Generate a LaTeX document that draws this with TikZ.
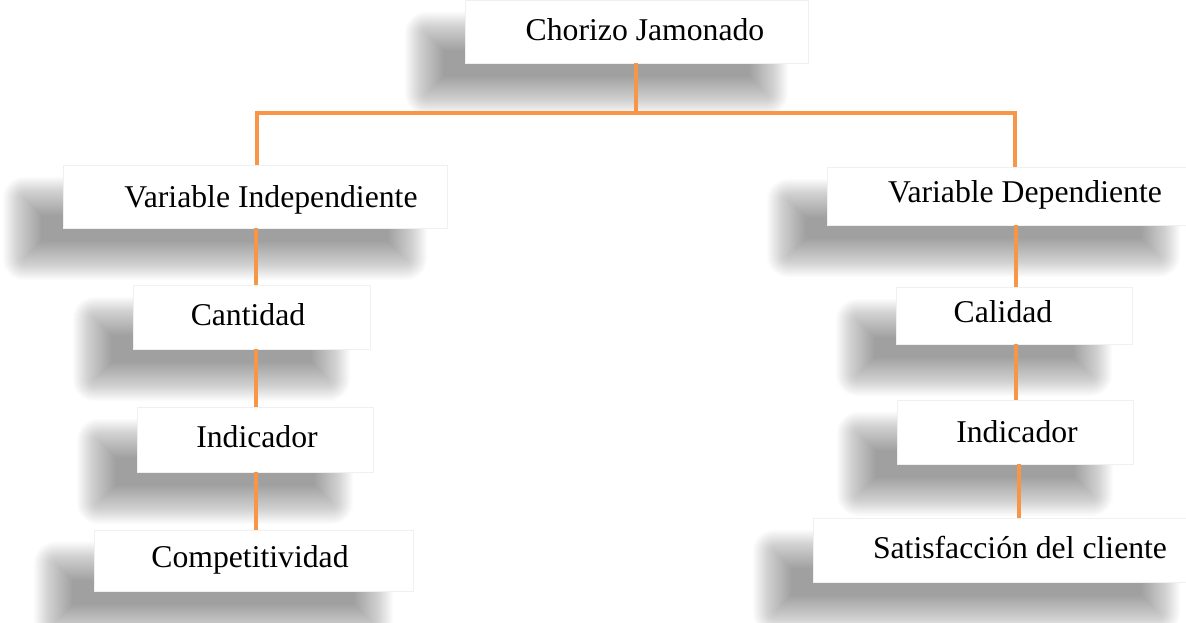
\documentclass[tikz,border=0pt]{standalone}
\usepackage{fontspec}
\setmainfont{Liberation Serif}
\usetikzlibrary{calc,backgrounds}
\definecolor{conncol}{HTML}{F79646}
\tikzset{
  boxnode/.style={rectangle, fill=white, draw=black!6, line width=0.6pt, inner sep=0pt},
  lbl/.style={anchor=base, inner sep=0pt, font=\fontsize{31.7}{38}\selectfont},
  conn/.style={draw=conncol, line width=4.8pt},
  shadowfill/.style={fill=black, opacity=0.0105}
}
\newcommand\mkshadow[1]{%
  \foreach \k in {0,...,39}{%
    \pgfmathsetmacro\se{20-\k}%
    \pgfmathsetmacro\sxl{-40-\se}%
    \pgfmathsetmacro\sxr{-40+\se}%
    \pgfmathsetmacro\syt{32-\se}%
    \pgfmathsetmacro\syb{32+\se}%
    \pgfmathsetmacro\src{max(\se+2,0.5)}%
    \fill[shadowfill, rounded corners=\src pt] ($(#1.north west)+(\sxl,\syt)$) rectangle ($(#1.south east)+(\sxr,\syb)$);
  }}
\begin{document}
\begin{tikzpicture}[x=1pt,y=-1pt]
\useasboundingbox (0,0) rectangle (1186,622);
\clip (0,0) rectangle (1186,622);

% boxes
\node[boxnode, minimum width=343pt, minimum height=63pt] (top)  at (636.5,31.5) {};
\node[boxnode, minimum width=384pt, minimum height=63pt] (vi)   at (255,196.5) {};
\node[boxnode, minimum width=373pt, minimum height=58pt] (vd)   at (1013.5,196) {};
\node[boxnode, minimum width=237pt, minimum height=64pt] (cant) at (251.5,317) {};
\node[boxnode, minimum width=236pt, minimum height=65pt] (indl) at (255,439.5) {};
\node[boxnode, minimum width=319pt, minimum height=61pt] (comp) at (253.5,560.5) {};
\node[boxnode, minimum width=236pt, minimum height=57pt] (cal)  at (1014,315.5) {};
\node[boxnode, minimum width=236pt, minimum height=64pt] (indr) at (1015,432) {};
\node[boxnode, minimum width=387pt, minimum height=64pt] (sat)  at (1006.5,550) {};

% labels
\node[lbl] (ttop)  at (645,40)   {Chorizo Jamonado};
\node[lbl] (tvi)   at (271,207)  {Variable Independiente};
\node[lbl] (tvd)   at (1025,202) {Variable Dependiente};
\node[lbl] (tcant) at (248,325)  {Cantidad};
\node[lbl] (tindl) at (257,447)  {Indicador};
\node[lbl] (tcomp) at (250,567)  {Competitividad};
\node[lbl] (tcal)  at (1003,322) {Calidad};
\node[lbl] (tindr) at (1017,442) {Indicador};
\node[lbl] (tsat)  at (1020,558) {Satisfacción del cliente};

% shadows
\begin{pgfonlayer}{background}
\mkshadow{top}
\mkshadow{vi}
\mkshadow{vd}
\mkshadow{cant}
\mkshadow{indl}
\mkshadow{comp}
\mkshadow{cal}
\mkshadow{indr}
\mkshadow{sat}
\end{pgfonlayer}

% connectors
\coordinate (hc) at (636,113);
\coordinate (hl) at (257,113);
\coordinate (hr) at (1015,113);
\coordinate (cl) at (256,0);
\coordinate (cr) at (1016,0);
\coordinate (cr2) at (1019,0);
\draw[conn] (top.south -| hc) -- (hc);
\draw[conn] (vi.north -| hl) -- (hl) -- (hr) -- (vd.north -| hr);
\draw[conn] (vi.south -| cl) -- (cant.north -| cl);
\draw[conn] (cant.south -| cl) -- (indl.north -| cl);
\draw[conn] (indl.south -| cl) -- (comp.north -| cl);
\draw[conn] (vd.south -| cr) -- (cal.north -| cr);
\draw[conn] (cal.south -| cr) -- (indr.north -| cr);
\draw[conn] (indr.south -| cr2) -- (sat.north -| cr2);
\end{tikzpicture}
\end{document}
